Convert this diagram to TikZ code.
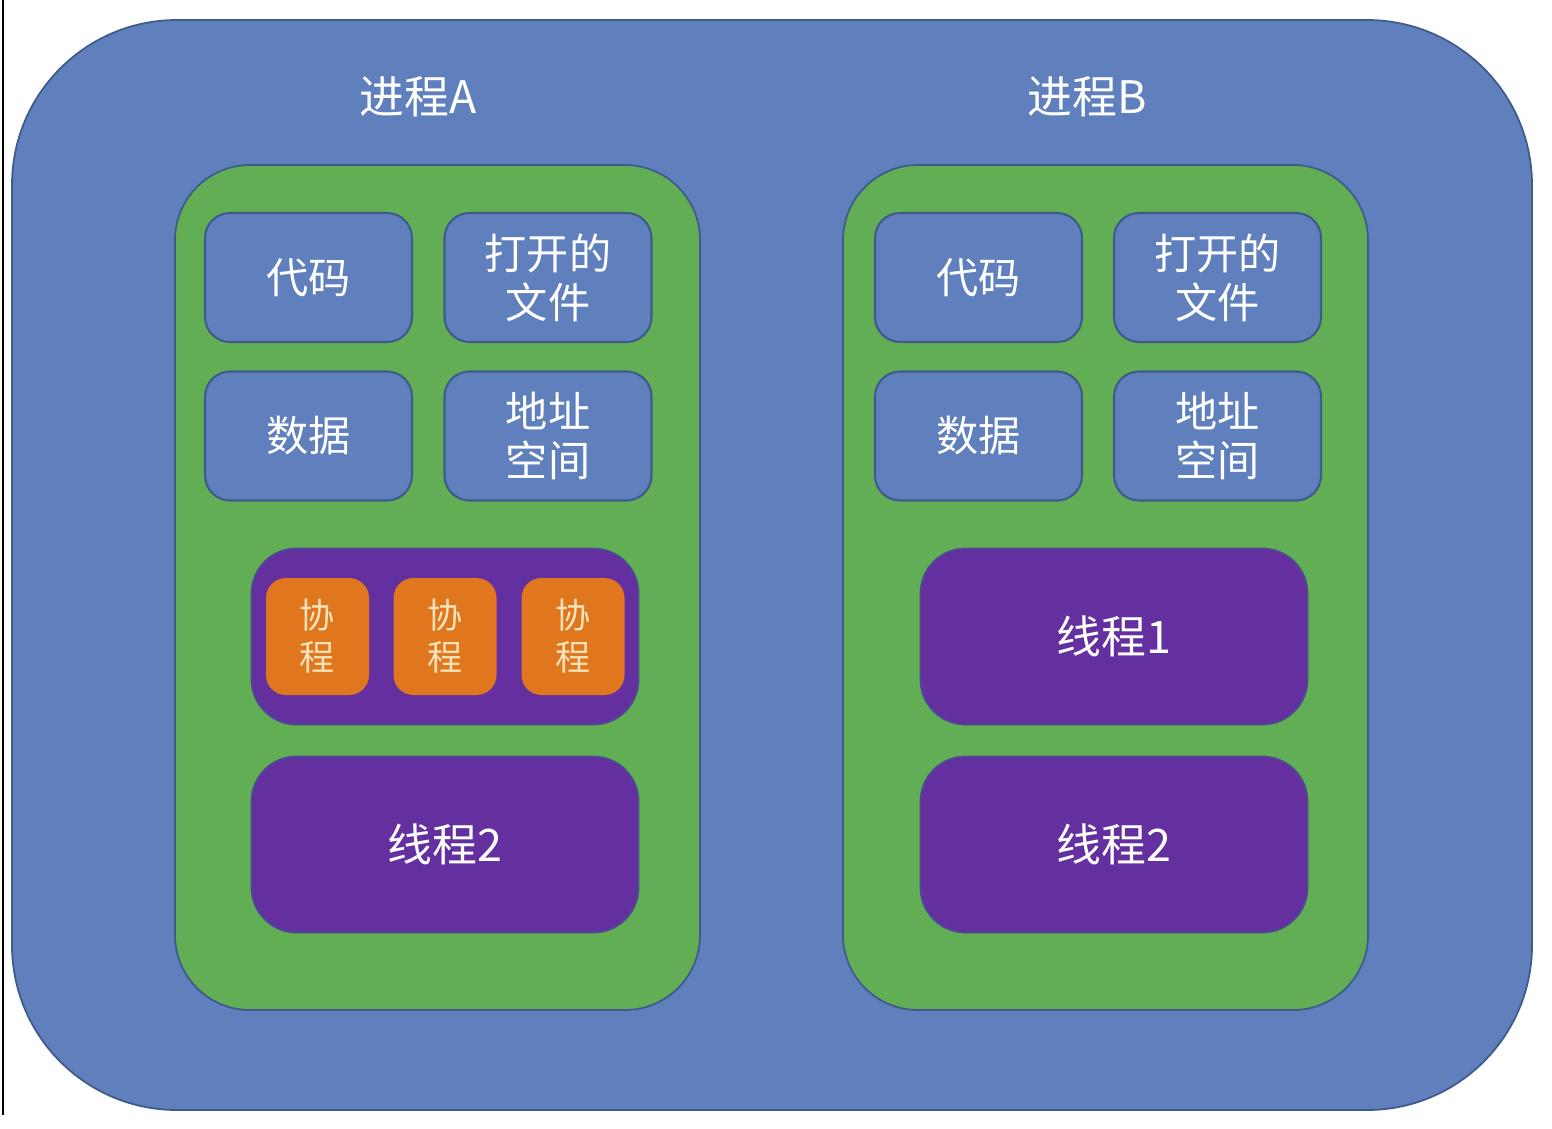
\documentclass[tikz,border=0pt]{standalone}
\usepackage{fontspec}
\setmainfont{Noto Sans CJK SC}
\usepackage{tikz}
\usetikzlibrary{positioning}
\definecolor{procBlue}{HTML}{5F80BD}
\definecolor{edgeBlue}{HTML}{3E5B8C}
\definecolor{grpGreen}{HTML}{62AE54}
\definecolor{thrPurple}{HTML}{6430A0}
\definecolor{coOrange}{HTML}{E0761E}
\definecolor{coText}{HTML}{F8E2B8}

\begin{document}
\begin{tikzpicture}[x=0.2mm,y=-0.2mm,
    every node/.style={inner sep=0pt,align=center},
    procbox/.style={draw=edgeBlue,fill=procBlue,line width=1pt,rounded corners=3.3cm,
      minimum width=30.4cm,minimum height=21.8cm},
    grpbox/.style={draw=edgeBlue,fill=grpGreen,line width=1pt,rounded corners=1.5cm,
      minimum width=10.5cm,minimum height=16.9cm},
    resbox/.style={draw=edgeBlue,fill=procBlue,line width=1.2pt,rounded corners=0.5cm,
      minimum width=4.14cm,minimum height=2.58cm,text=white,
      font=\fontsize{24pt}{28pt}\selectfont},
    thrbox/.style={draw=edgeBlue!60!thrPurple,fill=thrPurple,line width=1pt,rounded corners=0.9cm,
      minimum width=7.74cm,minimum height=3.52cm,text=white,
      font=\fontsize{25.5pt}{30pt}\selectfont},
    cobox/.style={fill=coOrange,rounded corners=0.4cm,
      minimum width=2.06cm,minimum height=2.34cm,text=coText,
      font=\fontsize{20pt}{24pt}\selectfont},
    title/.style={text=white,font=\fontsize{25.5pt}{30pt}\selectfont}]
  \useasboundingbox (0,0) rectangle (1552,1128);
  \draw[line width=1.2pt] (3,0) -- (3,1115);
  \node[procbox] (proc) at (772,565) {};
  \node[title] (titleA) at (418,97) {进程A};
  \node[title] (titleB) at (1087,97) {进程B};
  % process A
  \node[grpbox] (grpA) at (437.5,587.5) {};
  \node[resbox] (codeA) at (308.5,277.5) {代码};
  \node[resbox] (fileA) at (548,277.5) {打开的\\文件};
  \node[resbox] (dataA) at (308.5,436) {数据};
  \node[resbox] (addrA) at (548,436) {地址\\空间};
  \node[thrbox] (thrA1) at (445,636.5) {};
  \foreach \x/\n in {317.5/1,445/2,573/3}
    \node[cobox] (co\n) at (\x,636.5) {协\\程};
  \node[thrbox] (thrA2) at (445,844.5) {线程2};
  % process B
  \node[grpbox] (grpB) at (1105.5,587.5) {};
  \node[resbox] (codeB) at (978.5,277.5) {代码};
  \node[resbox] (fileB) at (1217.5,277.5) {打开的\\文件};
  \node[resbox] (dataB) at (978.5,436) {数据};
  \node[resbox] (addrB) at (1217.5,436) {地址\\空间};
  \node[thrbox] (thrB1) at (1114,636.5) {线程1};
  \node[thrbox] (thrB2) at (1114,844.5) {线程2};
\end{tikzpicture}
\end{document}
